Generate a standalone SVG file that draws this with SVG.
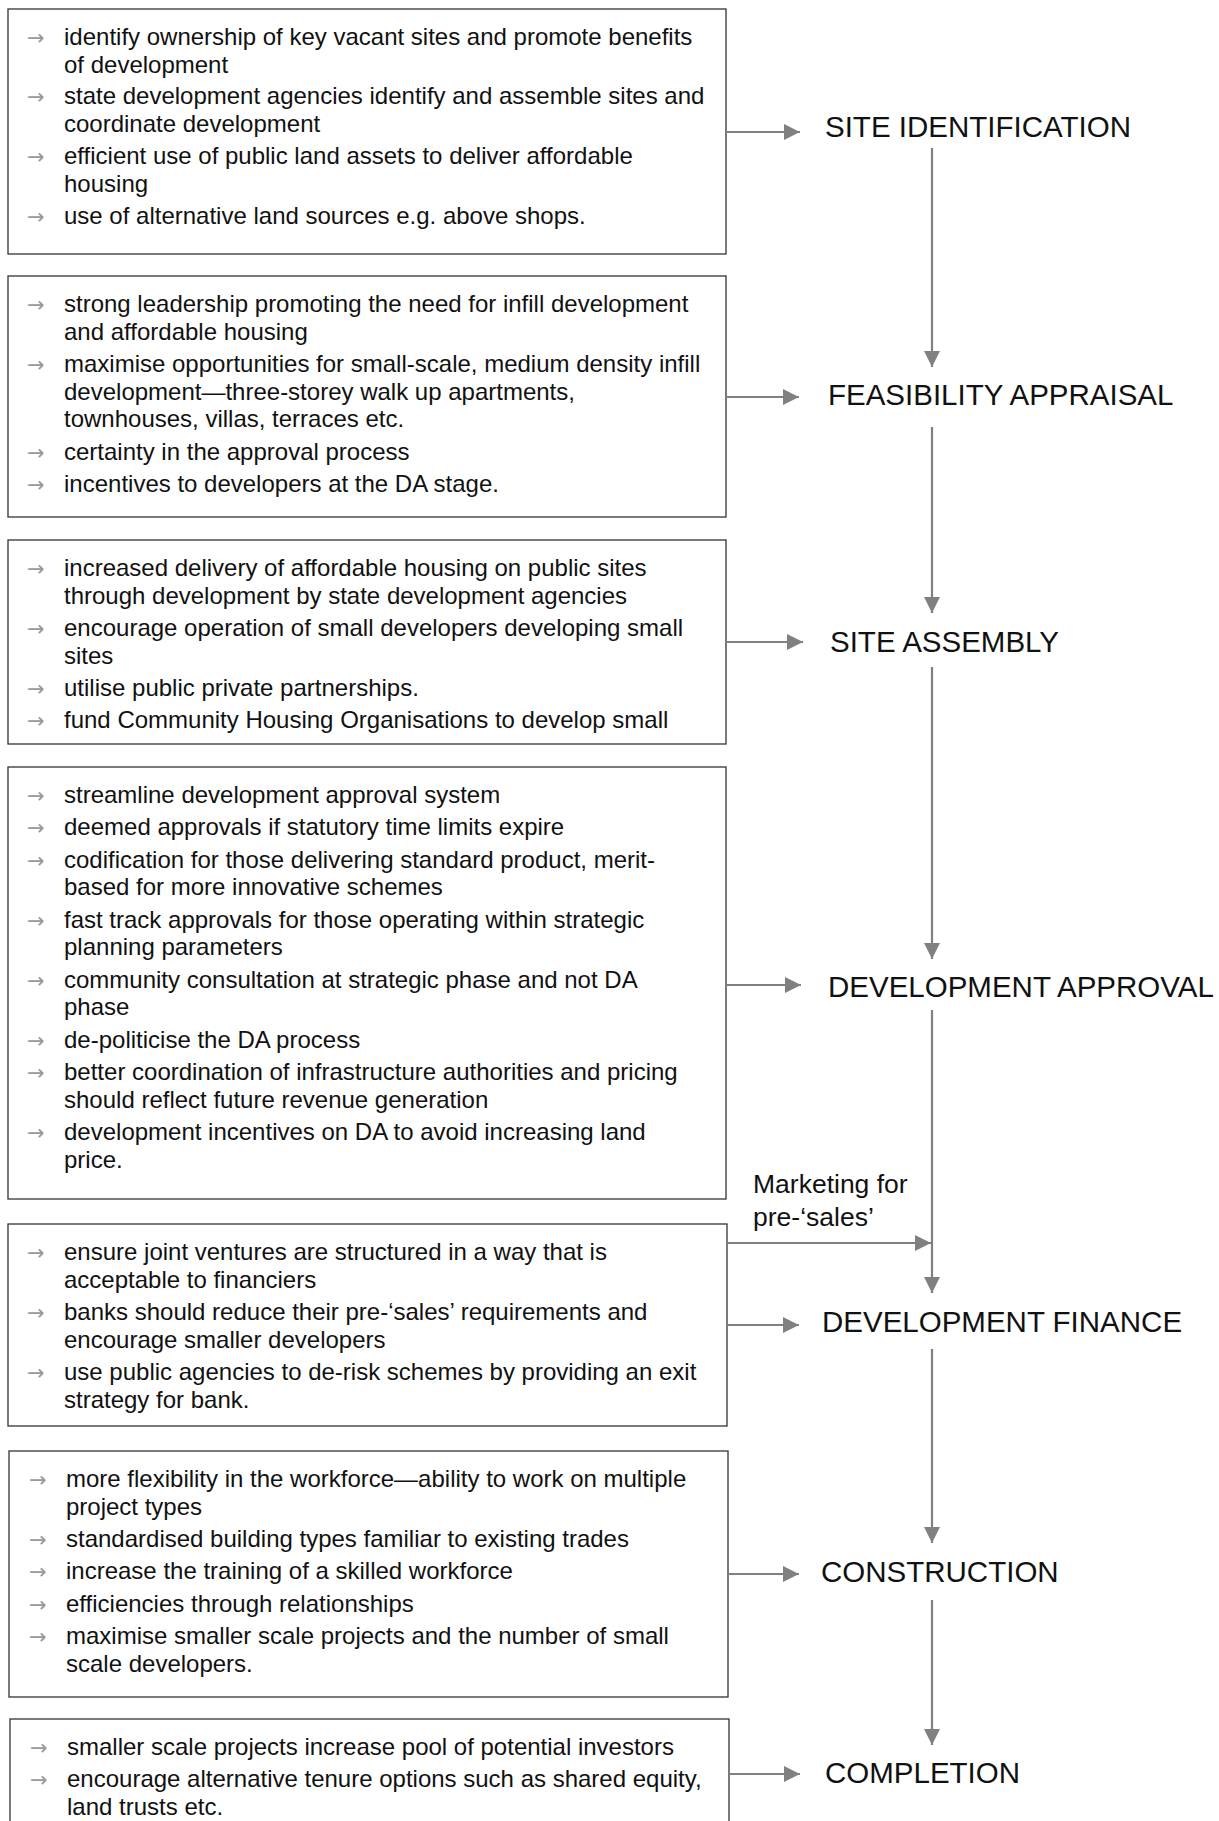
<svg xmlns="http://www.w3.org/2000/svg" width="1219" height="1821" viewBox="0 0 1219 1821">
<defs>
<style>
.box{fill:#fff;stroke:#333;stroke-width:1.3}
.t{font-family:"Liberation Sans",Arial,sans-serif;font-size:24px;fill:#111}
.b{font-family:"DejaVu Sans",sans-serif;font-size:21px;fill:#999}
.lbl{font-family:"Liberation Sans",Arial,sans-serif;font-size:29.5px;fill:#111}
.mk{font-family:"Liberation Sans",Arial,sans-serif;font-size:26.5px;fill:#111}
.c{stroke:#808080;stroke-width:2.2;fill:none}
</style>
<marker id="ah" markerUnits="userSpaceOnUse" markerWidth="16" markerHeight="16" viewBox="0 0 15 15" refX="15" refY="7.5" orient="auto">
<path d="M0,0 L15,7.5 L0,15 z" fill="#808080"/>
</marker>
</defs>
<rect width="1219" height="1821" fill="#fff"/>

<g id="box-site-identification">
<rect class="box" x="8" y="9" width="718" height="245"/>
<text class="b" x="27" y="45">→</text><text class="t" x="64" y="45">identify ownership of key vacant sites and promote benefits</text>
<text class="t" x="64" y="72.5">of development</text>
<text class="b" x="27" y="104">→</text><text class="t" x="64" y="104">state development agencies identify and assemble sites and</text>
<text class="t" x="64" y="131.5">coordinate development</text>
<text class="b" x="27" y="164">→</text><text class="t" x="64" y="164">efficient use of public land assets to deliver affordable</text>
<text class="t" x="64" y="191.5">housing</text>
<text class="b" x="27" y="223.5">→</text><text class="t" x="64" y="223.5">use of alternative land sources e.g. above shops.</text>
</g>

<g id="box-feasibility-appraisal">
<rect class="box" x="8" y="276" width="718" height="241"/>
<text class="b" x="27" y="312">→</text><text class="t" x="64" y="312">strong leadership promoting the need for infill development</text>
<text class="t" x="64" y="339.6">and affordable housing</text>
<text class="b" x="27" y="372">→</text><text class="t" x="64" y="372">maximise opportunities for small-scale, medium density infill</text>
<text class="t" x="64" y="399.6">development—three-storey walk up apartments,</text>
<text class="t" x="64" y="427.2">townhouses, villas, terraces etc.</text>
<text class="b" x="27" y="459.6">→</text><text class="t" x="64" y="459.6">certainty in the approval process</text>
<text class="b" x="27" y="492">→</text><text class="t" x="64" y="492">incentives to developers at the DA stage.</text>
</g>

<g id="box-site-assembly">
<rect class="box" x="8" y="540" width="718" height="204"/>
<text class="b" x="27" y="576">→</text><text class="t" x="64" y="576">increased delivery of affordable housing on public sites</text>
<text class="t" x="64" y="603.6">through development by state development agencies</text>
<text class="b" x="27" y="636">→</text><text class="t" x="64" y="636">encourage operation of small developers developing small</text>
<text class="t" x="64" y="663.6">sites</text>
<text class="b" x="27" y="696">→</text><text class="t" x="64" y="696">utilise public private partnerships.</text>
<text class="b" x="27" y="728.4">→</text><text class="t" x="64" y="728.4">fund Community Housing Organisations to develop small</text>
</g>

<g id="box-development-approval">
<rect class="box" x="8" y="767" width="718" height="432"/>
<text class="b" x="27" y="803">→</text><text class="t" x="64" y="803">streamline development approval system</text>
<text class="b" x="27" y="835.4">→</text><text class="t" x="64" y="835.4">deemed approvals if statutory time limits expire</text>
<text class="b" x="27" y="867.8">→</text><text class="t" x="64" y="867.8">codification for those delivering standard product, merit-</text>
<text class="t" x="64" y="895.4">based for more innovative schemes</text>
<text class="b" x="27" y="927.8">→</text><text class="t" x="64" y="927.8">fast track approvals for those operating within strategic</text>
<text class="t" x="64" y="955.4">planning parameters</text>
<text class="b" x="27" y="987.8">→</text><text class="t" x="64" y="987.8">community consultation at strategic phase and not DA</text>
<text class="t" x="64" y="1015.4">phase</text>
<text class="b" x="27" y="1047.8">→</text><text class="t" x="64" y="1047.8">de-politicise the DA process</text>
<text class="b" x="27" y="1080.2">→</text><text class="t" x="64" y="1080.2">better coordination of infrastructure authorities and pricing</text>
<text class="t" x="64" y="1107.8">should reflect future revenue generation</text>
<text class="b" x="27" y="1140.2">→</text><text class="t" x="64" y="1140.2">development incentives on DA to avoid increasing land</text>
<text class="t" x="64" y="1167.8">price.</text>
</g>

<g id="box-development-finance">
<rect class="box" x="8" y="1224" width="719" height="202"/>
<text class="b" x="27" y="1260">→</text><text class="t" x="64" y="1260">ensure joint ventures are structured in a way that is</text>
<text class="t" x="64" y="1287.6">acceptable to financiers</text>
<text class="b" x="27" y="1320">→</text><text class="t" x="64" y="1320">banks should reduce their pre-‘sales’ requirements and</text>
<text class="t" x="64" y="1347.6">encourage smaller developers</text>
<text class="b" x="27" y="1380">→</text><text class="t" x="64" y="1380">use public agencies to de-risk schemes by providing an exit</text>
<text class="t" x="64" y="1407.6">strategy for bank.</text>
</g>

<g id="box-construction">
<rect class="box" x="9" y="1451" width="719" height="246"/>
<text class="b" x="29" y="1487">→</text><text class="t" x="66" y="1487">more flexibility in the workforce—ability to work on multiple</text>
<text class="t" x="66" y="1514.6">project types</text>
<text class="b" x="29" y="1547">→</text><text class="t" x="66" y="1547">standardised building types familiar to existing trades</text>
<text class="b" x="29" y="1579.4">→</text><text class="t" x="66" y="1579.4">increase the training of a skilled workforce</text>
<text class="b" x="29" y="1611.8">→</text><text class="t" x="66" y="1611.8">efficiencies through relationships</text>
<text class="b" x="29" y="1644.2">→</text><text class="t" x="66" y="1644.2">maximise smaller scale projects and the number of small</text>
<text class="t" x="66" y="1671.8">scale developers.</text>
</g>

<g id="box-completion">
<rect class="box" x="10" y="1719" width="719" height="120"/>
<text class="b" x="30" y="1755">→</text><text class="t" x="67" y="1755">smaller scale projects increase pool of potential investors</text>
<text class="b" x="30" y="1787.4">→</text><text class="t" x="67" y="1787.4">encourage alternative tenure options such as shared equity,</text>
<text class="t" x="67" y="1815">land trusts etc.</text>
</g>

<g id="stage-site-identification"><text class="lbl" x="825" y="137">SITE IDENTIFICATION</text></g>
<g id="stage-feasibility-appraisal"><text class="lbl" x="828" y="405">FEASIBILITY APPRAISAL</text></g>
<g id="stage-site-assembly"><text class="lbl" x="830" y="652">SITE ASSEMBLY</text></g>
<g id="stage-development-approval"><text class="lbl" x="828" y="997">DEVELOPMENT APPROVAL</text></g>
<g id="stage-development-finance"><text class="lbl" x="822" y="1332">DEVELOPMENT FINANCE</text></g>
<g id="stage-construction"><text class="lbl" x="821" y="1582">CONSTRUCTION</text></g>
<g id="stage-completion"><text class="lbl" x="825" y="1783">COMPLETION</text></g>
<g id="label-marketing">
<text class="mk" x="753" y="1193">Marketing for</text>
<text class="mk" x="753" y="1226">pre-‘sales’</text>
</g>

<g id="connectors">
<line class="c" x1="726" y1="132" x2="800" y2="132" marker-end="url(#ah)"/>
<line class="c" x1="726" y1="397" x2="799" y2="397" marker-end="url(#ah)"/>
<line class="c" x1="726" y1="642" x2="803" y2="642" marker-end="url(#ah)"/>
<line class="c" x1="726" y1="985" x2="801" y2="985" marker-end="url(#ah)"/>
<line class="c" x1="727" y1="1243" x2="931" y2="1243" marker-end="url(#ah)"/>
<line class="c" x1="727" y1="1325" x2="799" y2="1325" marker-end="url(#ah)"/>
<line class="c" x1="728" y1="1574" x2="799" y2="1574" marker-end="url(#ah)"/>
<line class="c" x1="729" y1="1774" x2="800" y2="1774" marker-end="url(#ah)"/>
<line class="c" x1="932" y1="148" x2="932" y2="367" marker-end="url(#ah)"/>
<line class="c" x1="932" y1="427" x2="932" y2="613" marker-end="url(#ah)"/>
<line class="c" x1="932" y1="667" x2="932" y2="959" marker-end="url(#ah)"/>
<line class="c" x1="932" y1="1010" x2="932" y2="1293" marker-end="url(#ah)"/>
<line class="c" x1="932" y1="1349" x2="932" y2="1543" marker-end="url(#ah)"/>
<line class="c" x1="932" y1="1600" x2="932" y2="1745" marker-end="url(#ah)"/>
</g>
</svg>
